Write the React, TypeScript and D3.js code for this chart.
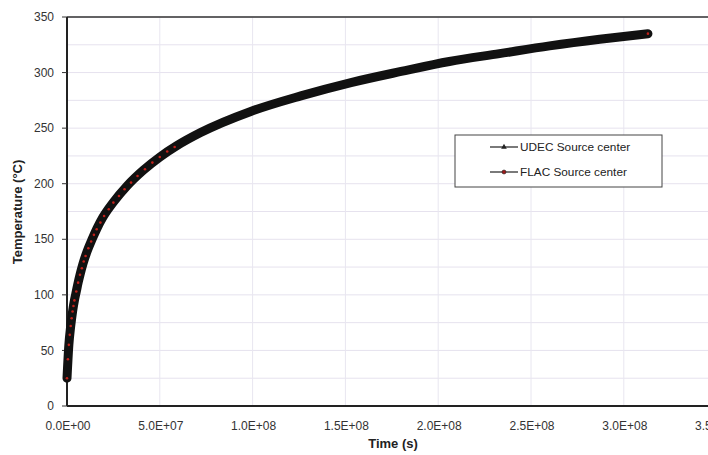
import React from 'react';
import * as d3 from 'd3';

// UDEC source center (thick black curve)
const udecTime = [0, 1e6, 2e6, 3e6, 4e6, 5e6, 6e6, 7e6, 8.6e6, 1.08e7, 1.35e7, 1.62e7, 1.94e7, 2.48e7, 3.23e7, 4.1e7, 5e7, 5.9e7, 7.2e7, 9.9e7, 1.26e8, 1.53e8, 1.8e8, 2.06e8, 2.33e8, 2.6e8, 2.87e8, 3.13e8];
const udecTemp = [25, 55, 72, 85, 95, 103, 111, 118, 128, 139, 150, 160, 170, 183, 198, 212, 224, 234, 246, 265, 279, 291, 301, 310, 317, 324, 330, 335];

// FLAC source center (red markers)
const flacTime = [0, 5e5, 1e6, 1.5e6, 2e6, 2.5e6, 3e6, 3.5e6, 4e6, 5e6, 6e6, 7e6, 8e6, 9e6, 1e7, 1.15e7, 1.3e7, 1.45e7, 1.6e7, 1.8e7, 2e7, 2.25e7, 2.5e7, 2.8e7, 3.1e7, 3.45e7, 3.8e7, 4.2e7, 4.6e7, 5e7, 5.4e7, 5.8e7, 3.13e8];
const flacTemp = [25, 42, 55, 64, 72, 79, 85, 90, 95, 103, 111, 118, 124, 130, 135, 142, 148, 154, 159, 165, 171, 177, 183, 189, 195, 201, 207, 213, 219, 224, 229, 233, 335];

const yTicks = [0, 50, 100, 150, 200, 250, 300, 350];
const xTicks = [0, 5e7, 1e8, 1.5e8, 2e8, 2.5e8, 3e8, 3.5e8];
const xTickLabels = ['0.0E+00', '5.0E+07', '1.0E+08', '1.5E+08', '2.0E+08', '2.5E+08', '3.0E+08', '3.5E+08'];
const legendLabels = ['UDEC Source center', 'FLAC Source center'];

export default function App() {
  const width = 708, height = 455;
  const left = 67, top = 17, bottom = 406;

  const x = d3.scaleLinear().domain([0, 3.5e8]).range([left, left + 7 * 92.8]);
  const y = d3.scaleLinear().domain([0, 350]).range([bottom, top]);

  const line = d3.line<number>()
    .x((d, i) => x(udecTime[i]))
    .y(d => y(d))
    .curve(d3.curveMonotoneX);

  const flacLine = d3.line<number>()
    .x((d, i) => x(flacTime[i]))
    .y(d => y(d))
    .curve(d3.curveMonotoneX);

  const gridY = d3.range(25, 351, 25);
  const gridX = d3.range(5e7, 3.51e8, 5e7);
  const font = 'Arial, "Liberation Sans", sans-serif';

  return (
    <svg width={width} height={height} style={{ position: 'absolute', left: 0, top: 0, background: '#fff' }}>
      {/* grid */}
      {gridY.map(v => (
        <line key={'gy' + v} x1={left} x2={width} y1={y(v)} y2={y(v)} stroke="#e6e2ee" strokeWidth={1} />
      ))}
      {gridX.map(v => (
        <line key={'gx' + v} x1={x(v)} x2={x(v)} y1={top} y2={bottom} stroke="#e8e6f0" strokeWidth={1} />
      ))}

      {/* frame */}
      <line x1={left} x2={width} y1={top} y2={top} stroke="#333" strokeWidth={1.5} />
      <line x1={left} x2={left} y1={top} y2={bottom} stroke="#222" strokeWidth={2} />
      <line x1={left} x2={width} y1={bottom} y2={bottom} stroke="#222" strokeWidth={2} />

      {/* y ticks */}
      {yTicks.map(v => (
        <g key={'yt' + v}>
          <line x1={left - 5} x2={left} y1={y(v)} y2={y(v)} stroke="#333" strokeWidth={1} />
          <text x={54} y={y(v)} dy="0.35em" textAnchor="end" fontSize={12} fontFamily={font} fill="#333">{v}</text>
        </g>
      ))}

      {/* x tick labels */}
      {xTicks.map((v, i) => (
        <text key={'xt' + v} x={x(v) + 1} y={430} textAnchor="middle" fontSize={12} fontFamily={font} fill="#333">{xTickLabels[i]}</text>
      ))}

      {/* series */}
      <path d={line(udecTemp) || ''} fill="none" stroke="#111" strokeWidth={9} strokeLinecap="round" strokeLinejoin="round" />
      <path d={flacLine(flacTemp) || ''} fill="none" stroke="#111" strokeWidth={1} />
      {flacTemp.map((v, i) => (
        <circle key={'f' + i} cx={x(flacTime[i])} cy={y(v)} r={1.3} fill="#c0201a" />
      ))}

      {/* axis titles */}
      <text transform="translate(22,212) rotate(-90)" textAnchor="middle" fontSize={13} fontWeight="bold" fontFamily={font} fill="#222">Temperature (°C)</text>
      <text x={393} y={448} textAnchor="middle" fontSize={13} fontWeight="bold" fontFamily={font} fill="#222">Time (s)</text>

      {/* legend */}
      <rect x={455} y={135} width={207} height={52} fill="#fff" stroke="#444" strokeWidth={1} />
      {legendLabels.map((lab, i) => {
        const ly = 147 + i * 25;
        return (
          <g key={lab}>
            <line x1={490} x2={518} y1={ly} y2={ly} stroke="#222" strokeWidth={1.2} />
            {i === 0
              ? <path d={d3.symbol(d3.symbolTriangle, 14)() || ''} transform={`translate(504,${ly})`} fill="#222" />
              : <circle cx={504} cy={ly} r={2} fill="#a01818" stroke="#222" strokeWidth={0.6} />}
            <text x={520} y={ly} dy="0.35em" fontSize={11.8} fontFamily={font} fill="#222">{lab}</text>
          </g>
        );
      })}
    </svg>
  );
}
